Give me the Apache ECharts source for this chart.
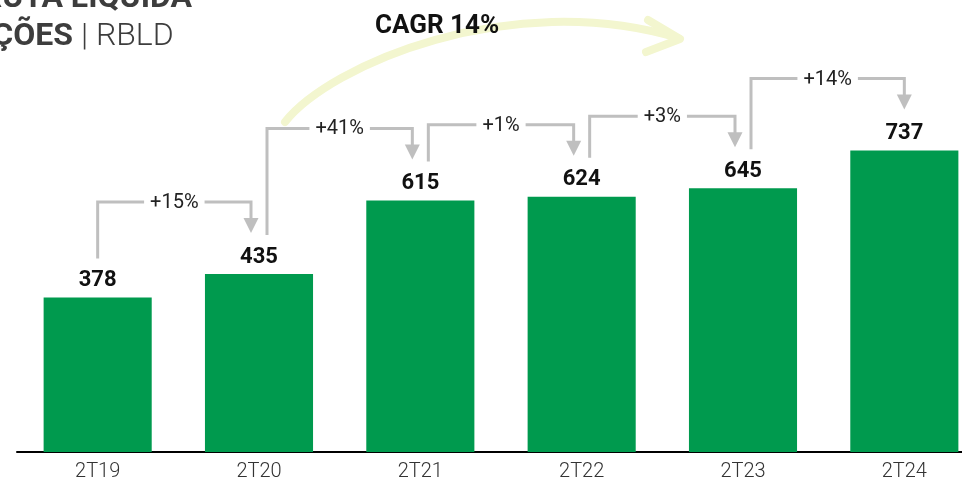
<!DOCTYPE html>
<html lang="pt-BR">
<head>
<meta charset="UTF-8" />
<title>RBLD</title>
<style>
  html, body { margin: 0; padding: 0; background: #fff; }
  #main { width: 962px; height: 483px; }
</style>
</head>
<body>
<div id="main"></div>
<script src="https://cdn.jsdelivr.net/npm/echarts@6/dist/echarts.min.js"></script>
<script>
// dados
const categories = ['2T19', '2T20', '2T21', '2T22', '2T23', '2T24'];
const values = [378, 435, 615, 624, 645, 737];
const growthLabels = ['+15%', '+41%', '+1%', '+3%', '+14%'];
const cagrLabel = 'CAGR 14%';

const FONT = 'Roboto, "Noto Sans", sans-serif';
const GRAY = '#bfbfbf';
const chart = echarts.init(document.getElementById('main'));

chart.setOption({
  animation: false,
  grid: { left: 17, top: 43, width: 968, height: 409, outerBoundsMode: 'none', containLabel: false },
  xAxis: {
    type: 'category',
    data: categories,
    axisLine: { lineStyle: { color: '#000', width: 2 } },
    axisTick: { show: false },
    axisLabel: { fontFamily: FONT, fontSize: 20, fontWeight: 300, color: '#333', margin: 10 }
  },
  yAxis: { type: 'value', min: 0, max: 1000, show: false },
  series: [{
    type: 'bar',
    data: values,
    barWidth: '67%',
    itemStyle: { color: '#009a4e' },
    label: {
      show: true, position: 'top', distance: 6,
      fontFamily: FONT, fontWeight: 'bold', fontSize: 22, color: '#111'
    }
  }]
});

// setas de variação entre os trimestres
const els = [];
const px = i => chart.convertToPixel({ seriesIndex: 0 }, [i, values[i]]);
for (let i = 0; i < values.length - 1; i++) {
  const a = px(i), b = px(i + 1);
  const upX = a[0] + (i > 0 ? 8 : 0);
  const downX = b[0] - (i + 1 < values.length - 1 ? 8 : 0);
  const level = Math.min(a[1], b[1]) - 72;
  const start = a[1] - 39;
  const tip = b[1] - 41;
  els.push({
    type: 'polyline', silent: true,
    shape: { points: [[upX, start], [upX, level], [downX, level], [downX, tip - 13]] },
    style: { stroke: GRAY, lineWidth: 3, fill: null }
  });
  els.push({
    type: 'polygon', silent: true,
    shape: { points: [[downX - 7.5, tip - 15], [downX + 7.5, tip - 15], [downX, tip]] },
    style: { fill: GRAY }
  });
  els.push({
    type: 'text', silent: true, z: 10,
    x: (upX + downX) / 2, y: level + 1,
    style: {
      text: growthLabels[i], fontFamily: FONT, fontSize: 20, fill: '#222',
      align: 'center', verticalAlign: 'middle', backgroundColor: '#fff', padding: [2, 6]
    }
  });
}

// seta do CAGR
els.push({
  type: 'bezierCurve', silent: true,
  shape: { x1: 285, y1: 122, cpx1: 330, cpy1: 65, cpx2: 510, cpy2: -12, x2: 678, y2: 38 },
  style: { stroke: '#f3f6cf', lineWidth: 8, lineCap: 'round', fill: null }
});
els.push({
  type: 'polyline', silent: true,
  shape: { points: [[648, 20], [680, 39], [646, 52]] },
  style: { stroke: '#f3f6cf', lineWidth: 8, lineCap: 'round', lineJoin: 'round', fill: null }
});
els.push({
  type: 'text', silent: true, z: 10, x: 375, y: 26,
  style: { text: cagrLabel, fontFamily: FONT, fontWeight: 'bold', fontSize: 26, fill: '#111', verticalAlign: 'middle' }
});

// título (cortado na imagem original)
els.push({
  type: 'text', silent: true, x: 192, y: 15,
  style: { text: 'RECEITA BRUTA LÍQUIDA', fontFamily: FONT, fontWeight: 'bold', fontSize: 32, fill: '#3d3d3d', align: 'right', verticalAlign: 'bottom' }
});
els.push({
  type: 'text', silent: true, x: 73, y: 53,
  style: { text: 'DEDUÇÕES', fontFamily: FONT, fontWeight: 'bold', fontSize: 32, fill: '#3d3d3d', align: 'right', verticalAlign: 'bottom' }
});
els.push({
  type: 'text', silent: true, x: 81, y: 53,
  style: { text: '| RBLD', fontFamily: FONT, fontWeight: 300, fontSize: 32, fill: '#3d3d3d', verticalAlign: 'bottom' }
});

chart.setOption({ graphic: { elements: els } });
</script>
</body>
</html>
